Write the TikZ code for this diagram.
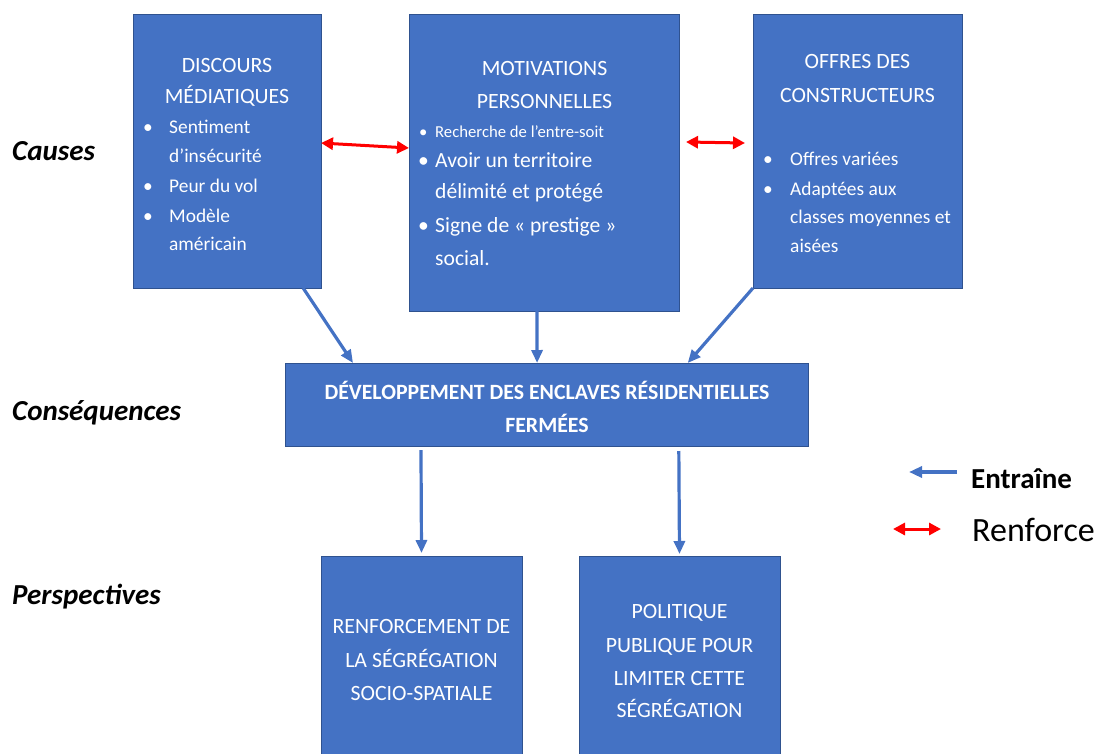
\documentclass[tikz,border=0pt]{standalone}
\usepackage{fontspec}
\setmainfont{Carlito}
\usetikzlibrary{arrows.meta,calc}
\definecolor{boxblue}{HTML}{4472C4}
\definecolor{boxedge}{HTML}{2F528F}
\definecolor{arrblue}{HTML}{4472C4}
\definecolor{arrred}{HTML}{FF0000}
\begin{document}
\begin{tikzpicture}[x=1pt,y=-1pt,
  box/.style={draw=boxedge,line width=0.8pt,fill=boxblue,rectangle,anchor=north west,inner sep=0pt,outer sep=0pt},
  ttl/.style={text=white,font=\fontsize{21.8}{26}\selectfont,anchor=base,inner sep=0pt},
  bigtxt/.style={text=white,font=\fontsize{21.6}{26}\selectfont,anchor=base west,inner sep=0pt},
  midtxt/.style={text=white,font=\fontsize{19.4}{23}\selectfont,anchor=base west,inner sep=0pt},
  smalltxt/.style={text=white,font=\fontsize{16.7}{20}\selectfont,anchor=base west,inner sep=0pt},
  boldttl/.style={text=white,font=\fontsize{21.8}{26}\selectfont\bfseries,anchor=base,inner sep=0pt},
  sidelabel/.style={text=black,font=\fontsize{29}{34}\selectfont\bfseries\itshape,anchor=base west,inner sep=0pt},
  blarr/.style={draw=arrblue,line width=3.2pt,-{Triangle[length=13pt,width=11pt]}},
  rdarr/.style={draw=arrred,line width=3pt,{Triangle[length=12pt,width=12pt]}-{Triangle[length=12pt,width=12pt]}}]
\useasboundingbox (0,0) rectangle (1095,753);
% boxes
\node[box,minimum width=188pt,minimum height=274pt] (d) at (133,14) {};
\node[box,minimum width=270pt,minimum height=297pt] (m) at (409,14) {};
\node[box,minimum width=209pt,minimum height=274pt] (o) at (753,14) {};
\node[box,minimum width=523pt,minimum height=83pt] (c) at (285,363) {};
\node[box,minimum width=201pt,minimum height=210pt] (r) at (321,556) {};
\node[box,minimum width=201pt,minimum height=210pt] (p) at (579,556) {};
% DISCOURS
\foreach \txt/\yy [count=\i] in {DISCOURS/72, MÉDIATIQUES/103}
  \node[ttl] (dt\i) at (227,\yy) {\txt};
\foreach \txt/\yy [count=\i] in {Sentiment/133, d’insécurité/162, Peur du vol/192, Modèle/222, américain/250}
  \node[midtxt] (dl\i) at (169,\yy) {\txt};
\foreach \yy [count=\i] in {133,192,222}
  \node[midtxt] (db\i) at (143,\yy) {•};
% MOTIVATIONS
\foreach \txt/\yy [count=\i] in {MOTIVATIONS/75, PERSONNELLES/108}
  \node[ttl] (mt\i) at (544.5,\yy) {\txt};
\node[smalltxt] (ms1) at (435,137) {Recherche de l’entre-soit};
\node[smalltxt] (msb1) at (419,137) {•};
\foreach \txt/\yy [count=\i] in {Avoir un territoire/167, délimité et protégé/198, Signe de « prestige »/232, social./265}
  \node[bigtxt] (ml\i) at (435,\yy) {\txt};
\foreach \yy [count=\i] in {167,232}
  \node[bigtxt] (mb\i) at (418,\yy) {•};
% OFFRES
\foreach \txt/\yy [count=\i] in {OFFRES DES/68, CONSTRUCTEURS/102}
  \node[ttl] (ot\i) at (857.5,\yy) {\txt};
\foreach \txt/\yy [count=\i] in {Offres variées/165, Adaptées aux/195, classes moyennes et/223, aisées/252}
  \node[midtxt] (ol\i) at (790,\yy) {\txt};
\foreach \yy [count=\i] in {165,195}
  \node[midtxt] (ob\i) at (763,\yy) {•};
% central
\node[boldttl] (ct1) at (547,399) {DÉVELOPPEMENT DES ENCLAVES RÉSIDENTIELLES};
\node[boldttl] (ct2) at (547,432) {FERMÉES};
% bottom boxes
\foreach \txt/\yy [count=\i] in {RENFORCEMENT DE/633, LA SÉGRÉGATION/667, SOCIO-SPATIALE/700}
  \node[ttl] (rt\i) at (421.5,\yy) {\txt};
\foreach \txt/\yy [count=\i] in {POLITIQUE/618, PUBLIQUE POUR/652, LIMITER CETTE/685, SÉGRÉGATION/717}
  \node[ttl] (pt\i) at (679.5,\yy) {\txt};
% side labels
\node[sidelabel] (lab1) at (12,160) {Causes};
\node[sidelabel] (lab2) at (12,420) {Conséquences};
\node[sidelabel] (lab3) at (12,604) {Perspectives};
% blue arrows
\draw[blarr] ($(d.south west)!0.905!(d.south east)$) -- ($(c.north west)!0.13!(c.north east)$);
\draw[blarr] ($(m.south west)!0.474!(m.south east)$) -- ($(c.north west)!0.482!(c.north east)$);
\draw[blarr] (o.south west) -- ($(c.north west)!0.77!(c.north east)$);
\draw[blarr] ($(c.south west)!0.26!(c.south east)+(0,4)$) -- ($(r.north)+(0,-3)$);
\draw[blarr] ($(c.south west)!0.753!(c.south east)+(0,5)$) -- ($(p.north)+(0,-2)$);
% red arrows
\draw[rdarr] ($(d.north east)+(0,129)$) -- ($(m.north west)+(0,134)$);
\draw[rdarr] ($(m.north east)+(7,128)$) -- ($(o.north west)+(-8,129)$);
% legend
\coordinate (lgA) at (957,472);
\coordinate (lgB) at (909,472);
\draw[blarr] (lgA) -- (lgB);
\node[text=black,font=\fontsize{29}{34}\selectfont\bfseries,anchor=base west,inner sep=0pt] (lgE) at (971,488) {Entraîne};
\coordinate (lgC) at (893,529);
\coordinate (lgD) at (941,529);
\draw[rdarr] (lgC) -- (lgD);
\node[text=black,font=\fontsize{34}{40}\selectfont,anchor=base west,inner sep=0pt] (lgR) at (972,541) {Renforce};
\end{tikzpicture}
\end{document}
